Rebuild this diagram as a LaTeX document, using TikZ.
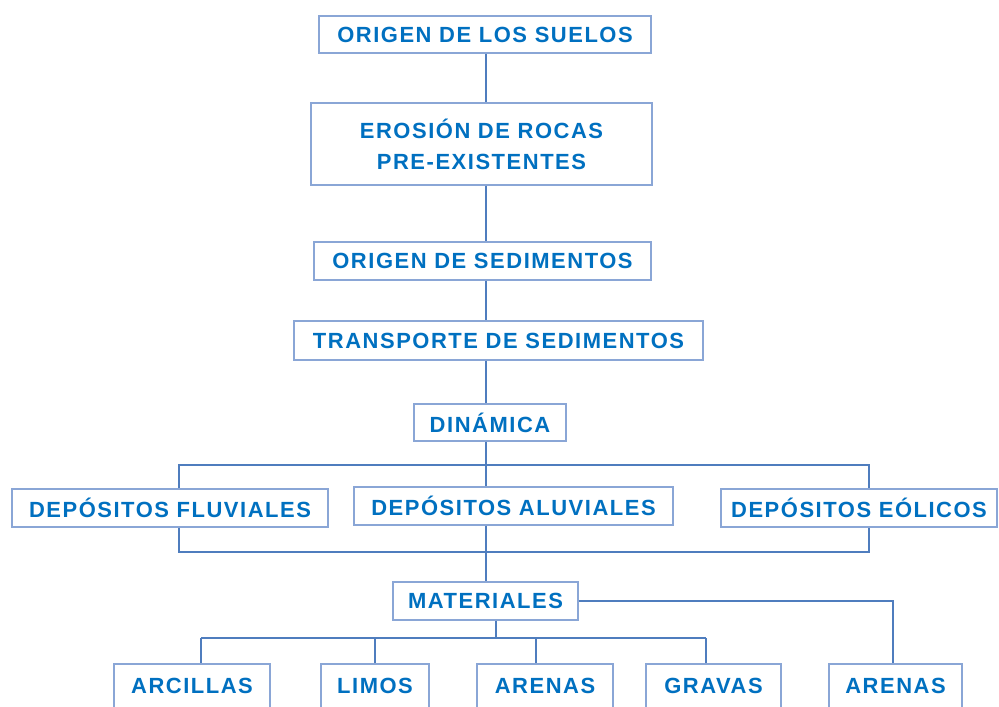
\documentclass[tikz,border=0pt]{standalone}
\usepackage{fontspec}
\setmainfont{Liberation Sans}[LetterSpace=7]
\definecolor{textoazul}{HTML}{0070C0}
\definecolor{bordeazul}{HTML}{8AA6D6}
\definecolor{lineaazul}{HTML}{4F7DBE}

\begin{document}
\begin{tikzpicture}[x=0.02cm,y=-0.02cm,
  caja/.style={draw=bordeazul,line width=.7pt,fill=white,text=textoazul,font=\bfseries\fontsize{12.5}{17.6}\selectfont,inner sep=0pt,align=center},
  enlace/.style={draw=lineaazul,line width=1.6pt}]
\useasboundingbox (0,0) rectangle (999,706);
\clip (0,0) rectangle (999,706);
\node[caja,minimum width=6.64cm,minimum height=.74cm] (suelos) at (485,34.5) {ORIGEN DE LOS SUELOS};
\node[caja,minimum width=6.82cm,minimum height=1.64cm] (erosion) at (481.5,144) {EROSIÓN DE ROCAS\\PRE-EXISTENTES};
\node[caja,minimum width=6.74cm,minimum height=.76cm] (sedimentos) at (482.5,261) {ORIGEN DE SEDIMENTOS};
\node[caja,minimum width=8.18cm,minimum height=.78cm] (transporte) at (498.5,340.5) {TRANSPORTE DE SEDIMENTOS};
\node[caja,minimum width=3.04cm,minimum height=.74cm] (dinamica) at (490,422.5) {DINÁMICA};
\node[caja,minimum width=6.32cm,minimum height=.76cm] (fluvial) at (170,508) {DEPÓSITOS FLUVIALES};
\node[caja,minimum width=6.38cm,minimum height=.76cm] (aluvial) at (513.5,506) {DEPÓSITOS ALUVIALES};
\node[caja,minimum width=5.52cm,minimum height=.76cm] (eolico) at (859,508) {DEPÓSITOS EÓLICOS};
\node[caja,minimum width=3.7cm,minimum height=.76cm] (materiales) at (485.5,601) {MATERIALES};
\node[caja,minimum width=3.12cm,minimum height=.88cm] (arcillas) at (192,686) {ARCILLAS};
\node[caja,minimum width=2.16cm,minimum height=.88cm] (limos) at (375,686) {LIMOS};
\node[caja,minimum width=2.72cm,minimum height=.88cm] (arenas) at (545,686) {ARENAS};
\node[caja,minimum width=2.7cm,minimum height=.88cm] (gravas) at (713.5,686) {GRAVAS};
\node[caja,minimum width=2.66cm,minimum height=.88cm] (arenasb) at (895.5,686) {ARENAS};
\coordinate (eje) at (486,0);
\coordinate (izqsup) at (179,465);
\coordinate (dersup) at (869,465);
\coordinate (izqinf) at (179,552);
\coordinate (derinf) at (869,552);
\coordinate (ramal) at (496,638);
\draw[enlace] (eje |- suelos.south) -- (eje |- erosion.north);
\draw[enlace] (eje |- erosion.south) -- (eje |- sedimentos.north);
\draw[enlace] (eje |- sedimentos.south) -- (eje |- transporte.north);
\draw[enlace] (eje |- transporte.south) -- (eje |- dinamica.north);
\draw[enlace] (eje |- dinamica.south) -- (eje |- aluvial.north);
\draw[enlace] (izqsup |- fluvial.north) -- (izqsup) -- (dersup) -- (dersup |- eolico.north);
\draw[enlace] (izqinf |- fluvial.south) -- (izqinf) -- (derinf) -- (derinf |- eolico.south);
\draw[enlace] (eje |- aluvial.south) -- (eje |- materiales.north);
\draw[enlace] (materiales.east) -- (893,0 |- materiales.east) -- (893,0 |- arenasb.north);
\draw[enlace] (ramal |- materiales.south) -- (ramal);
\draw[enlace] (201,638) -- (706,638);
\foreach \n/\x in {arcillas/201,limos/375,arenas/536,gravas/706}
  \draw[enlace] (\x,638) -- (\x,0 |- \n.north);
\end{tikzpicture}
\end{document}
